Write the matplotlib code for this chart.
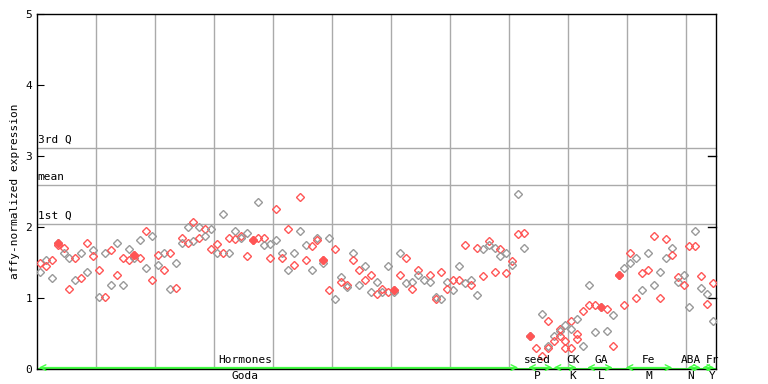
import matplotlib.pyplot as plt

# expression values per sample column (two replicates where present)
upper = [1.50, 1.54, 1.54, 1.77, 1.71, 1.56, 1.56, 1.64, 1.78, 1.67,
         1.39, 1.63, 1.67, 1.77, 1.56, 1.69, 1.60, 1.81, 1.94, 1.88,
         1.60, 1.64, 1.63, 1.50, 1.84, 2.00, 2.07, 2.00, 1.97, 1.97,
         1.76, 2.19, 1.84, 1.95, 1.87, 1.91, 1.81, 2.35, 1.85, 1.76,
         2.26, 1.63, 1.97, 1.63, 2.42, 1.74, 1.73, 1.84, 1.54, 1.84,
         1.69, 1.29, 1.19, 1.64, 1.39, 1.45, 1.33, 1.23, 1.12, 1.45,
         1.11, 1.64, 1.56, 1.22, 1.39, 1.25, 1.33, 1.01, 1.36, 1.23,
         1.26, 1.45, 1.74, 1.25, 1.71, 1.69, 1.80, 1.71, 1.69, 1.64,
         1.52, 2.46, 1.92, 0.47, 0.29, 0.78, 0.67, 0.46, 0.57, 0.62,
         0.67, 0.70, 0.81, 1.18, 0.90, 0.88, 0.84, 0.76, 1.33, 1.42,
         1.63, 1.56, 1.35, 1.63, 1.87, 1.37, 1.83, 1.71, 1.29, 1.32,
         1.73, 1.95, 1.31, 1.05, 1.21]
lower = [1.36, 1.45, 1.28, 1.74, 1.63, 1.12, 1.25, 1.28, 1.36, 1.59,
         1.01, 1.01, 1.19, 1.33, 1.19, 1.53, 1.57, 1.57, 1.42, 1.26,
         1.46, 1.40, 1.12, 1.14, 1.77, 1.78, 1.80, 1.84, 1.87, 1.69,
         1.64, 1.64, 1.63, 1.83, 1.84, 1.59, None, 1.84, 1.74, 1.56,
         1.81, 1.57, 1.40, 1.46, 1.94, 1.54, 1.40, 1.81, 1.50, 1.11,
         0.98, 1.23, 1.16, 1.53, 1.18, 1.25, 1.09, 1.05, 1.09, 1.09,
         1.08, 1.32, 1.21, 1.12, 1.32, None, 1.23, 0.98, 0.98, 1.12,
         1.11, 1.26, 1.21, 1.18, 1.04, 1.31, 1.74, 1.36, 1.59, 1.35,
         1.46, 1.90, 1.71, None, None, 0.18, 0.32, 0.39, 0.54, 0.39,
         0.57, 0.49, 0.32, 0.90, 0.52, None, 0.53, 0.33, None, 0.90,
         1.49, 1.00, 1.11, 1.39, 1.18, 1.00, 1.56, 1.60, 1.22, 1.18,
         0.88, 1.73, 1.14, 0.92, 0.67]
extra = {86: 0.29, 88: 0.46, 89: 0.29, 90: 0.29, 91: 0.42}
filled = [3, 16, 36, 48, 60, 83, 95, 98]

quartiles = [3.11, 2.59, 2.04]
quartile_names = ['3rd Q', 'mean', '1st Q']

top_labels = ['Hormones', 'seed', 'CK', 'GA', 'Fe', 'ABA', 'Fr']
bottom_labels = ['Goda', 'P', 'K', 'L', 'M', 'N', 'Y']
label_pos = [35.3, 84.7, 90.7, 95.6, 103.6, 110.7, 114.4]
group_edges = [(0.3, 81.5), (83.2, 87.3), (87.5, 91.4), (93.2, 97.5),
               (99.7, 107.6), (110.2, 112.4), (112.7, 114.7)]

RED = '#ff5555'
GREY = '#999999'

fig = plt.figure(figsize=(7.68, 3.84), dpi=100)
ax = fig.add_axes([37 / 768, 15 / 384, 679 / 768, 355 / 384])

plt.rcParams['font.family'] = 'DejaVu Sans Mono'

for i in range(len(upper)):
    x = i + 0.5
    c1, c2 = (RED, GREY) if i % 2 == 0 else (GREY, RED)
    vals = [(upper[i], c1), (lower[i], c2)]
    if i in extra:
        vals.append((extra[i], RED))
    for v, c in vals:
        if v is None:
            continue
        ax.plot(x, v, marker='D', ms=3.6, mfc='none', mec=c, mew=1.0, ls='none', zorder=3)
    if i in filled:
        ax.plot(x, upper[i], marker='D', ms=4.2, color=RED, ls='none', zorder=4)

for q, name in zip(quartiles, quartile_names):
    ax.axhline(q, color='#aaaaaa', lw=1, zorder=1)
    ax.text(0.1, q + 0.05, name, fontsize=8, family='DejaVu Sans Mono', va='bottom', ha='left')

for gx in range(10, 115, 10):
    ax.axvline(gx, color='#aaaaaa', lw=1, zorder=1)

ax.axhline(0, color='#44ff44', lw=1.5, zorder=2)
for a, b in group_edges:
    ax.annotate('', xy=(a, 0.02), xytext=(b, 0.02),
                arrowprops=dict(arrowstyle='<->', color='#44ff44', lw=1, shrinkA=0, shrinkB=0),
                annotation_clip=False)

for x, t, b in zip(label_pos, top_labels, bottom_labels):
    ax.text(x, 0.05, t, fontsize=8, family='DejaVu Sans Mono', ha='center', va='bottom', clip_on=False)
    ax.text(x, -0.03, b, fontsize=8, family='DejaVu Sans Mono', ha='center', va='top', clip_on=False)

ax.set_xlim(0, 115)
ax.set_ylim(0, 5)
ax.set_xticks([])
ax.set_yticks([0, 1, 2, 3, 4, 5])
ax.tick_params(axis='y', direction='in', length=5, labelsize=8)
for lab in ax.get_yticklabels():
    lab.set_family('DejaVu Sans Mono')
for y in [1, 2, 3]:
    ax.plot([113.7, 115], [y, y], color='black', lw=1, clip_on=False)
ax.set_ylabel('affy-normalized expression', fontsize=8, family='DejaVu Sans Mono', labelpad=4)
for s in ax.spines.values():
    s.set_linewidth(1)

fig.savefig('out.png', dpi=100)
